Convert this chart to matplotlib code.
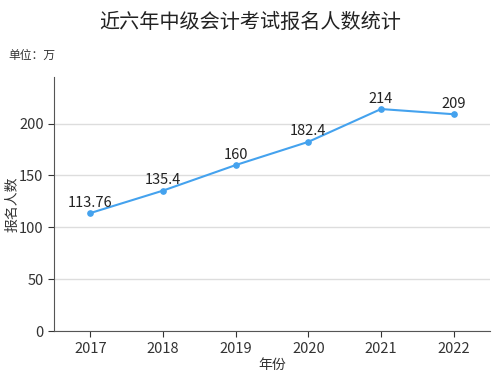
import matplotlib
matplotlib.use("Agg")
import matplotlib.pyplot as plt

plt.rcParams['font.family'] = ['Noto Sans CJK SC', 'DejaVu Sans']

years = ['2017', '2018', '2019', '2020', '2021', '2022']
counts = [113.76, 135.4, 160, 182.4, 214, 209]
labels = ['113.76', '135.4', '160', '182.4', '214', '209']

fig = plt.figure(figsize=(5, 3.75), dpi=100)
ax = fig.add_axes([0.108, 0.117, 0.872, 0.678])

x = list(range(len(years)))
ax.plot(x, counts, color='#44a2ee', lw=1.5, marker='o', ms=3.8, zorder=3)
for xi, v, t in zip(x, counts, labels):
    ax.annotate(t, (xi, v), xytext=(0, 2.5), textcoords='offset points',
                ha='center', va='bottom', fontsize=10.5, color='#222222')

ax.set_xlim(-0.5, len(years) - 0.5)
ax.set_ylim(0, 245)
ax.set_xticks(x)
ax.set_xticklabels(years)
ax.set_yticks([0, 50, 100, 150, 200])
ax.tick_params(labelsize=10.5, colors='#333333', length=4)
ax.grid(axis='y', color='#dddddd', lw=1)
ax.set_axisbelow(True)
for s in ['top', 'right']:
    ax.spines[s].set_visible(False)
for s in ['left', 'bottom']:
    ax.spines[s].set_color('#555555')

ax.set_xlabel('年份', fontsize=10, color='#333333', labelpad=2)
ax.set_ylabel('报名人数', fontsize=10, color='#333333', va='center')
ax.yaxis.set_label_coords(-0.096, 0.5)

fig.text(0.5, 0.94, '近六年中级会计考试报名人数统计', ha='center', va='center',
         fontsize=14.5, color='#222222')
fig.text(0.016, 0.853, '单位：万', ha='left', va='center', fontsize=8.5, color='#333333')

fig.savefig('out.png', dpi=100)
